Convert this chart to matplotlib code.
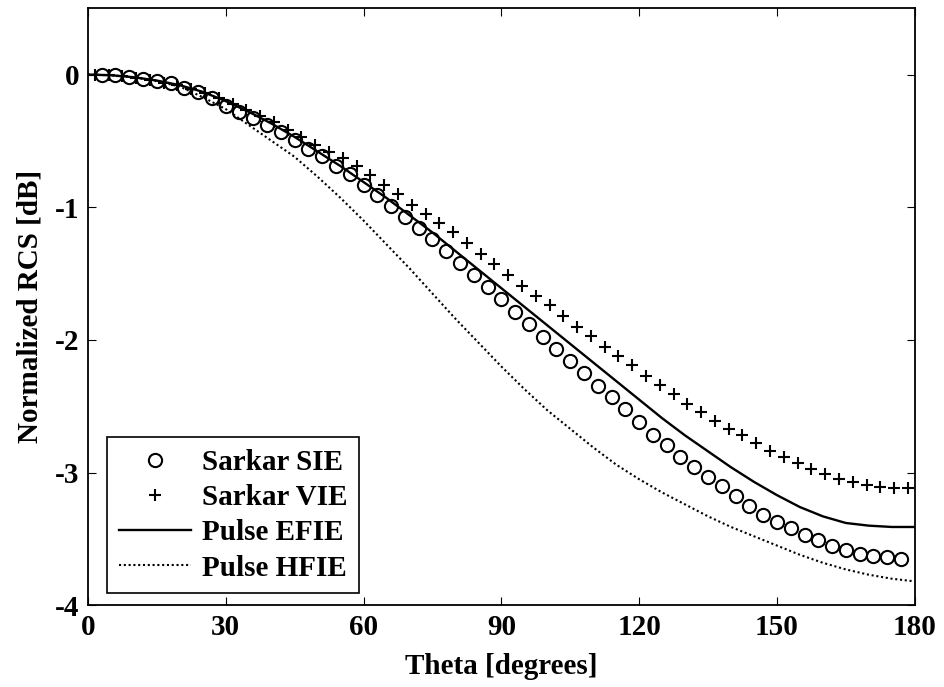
import numpy as np
import matplotlib
matplotlib.use('Agg')
import matplotlib.pyplot as plt

# data
sie_theta = np.arange(3, 178, 3)
sie_rcs = [0.0, -0.005, -0.015, -0.03, -0.05, -0.065, -0.10, -0.13, -0.18, -0.235,
           -0.28, -0.33, -0.38, -0.43, -0.49, -0.56, -0.61, -0.69, -0.75, -0.83,
           -0.91, -0.99, -1.07, -1.16, -1.24, -1.33, -1.42, -1.51, -1.60, -1.69,
           -1.79, -1.88, -1.98, -2.07, -2.16, -2.25, -2.35, -2.43, -2.52, -2.62,
           -2.72, -2.79, -2.88, -2.96, -3.03, -3.10, -3.18, -3.25, -3.32, -3.37,
           -3.42, -3.47, -3.51, -3.55, -3.58, -3.61, -3.63, -3.64, -3.65]

vie_theta = np.arange(1.5, 180, 3)
vie_rcs = [0.0, -0.005, -0.01, -0.025, -0.04, -0.06, -0.08, -0.11, -0.14, -0.18,
           -0.22, -0.27, -0.31, -0.36, -0.42, -0.47, -0.53, -0.58, -0.63, -0.69,
           -0.76, -0.83, -0.90, -0.98, -1.05, -1.12, -1.19, -1.27, -1.35, -1.43,
           -1.51, -1.59, -1.67, -1.74, -1.82, -1.90, -1.97, -2.05, -2.12, -2.19,
           -2.27, -2.34, -2.41, -2.48, -2.54, -2.61, -2.67, -2.72, -2.78, -2.84,
           -2.88, -2.93, -2.97, -3.01, -3.05, -3.07, -3.09, -3.11, -3.12, -3.12]

pulse_theta = np.arange(0, 181, 5)
efie_rcs = [0.0, -0.005, -0.02, -0.045, -0.08, -0.13, -0.20, -0.28, -0.37, -0.47,
            -0.58, -0.69, -0.81, -0.93, -1.06, -1.19, -1.33, -1.47, -1.61, -1.75,
            -1.89, -2.03, -2.17, -2.31, -2.45, -2.59, -2.72, -2.84, -2.96, -3.07,
            -3.17, -3.26, -3.33, -3.38, -3.40, -3.41, -3.41]
hfie_rcs = [0.0, -0.005, -0.02, -0.05, -0.09, -0.17, -0.26, -0.38, -0.50, -0.62,
            -0.77, -0.93, -1.10, -1.28, -1.46, -1.65, -1.84, -2.02, -2.20, -2.37,
            -2.53, -2.67, -2.81, -2.94, -3.05, -3.15, -3.24, -3.33, -3.41, -3.48,
            -3.55, -3.62, -3.68, -3.73, -3.77, -3.80, -3.82]

plt.rcParams['font.family'] = ['Liberation Serif', 'DejaVu Serif']
plt.rcParams['font.weight'] = 'bold'
plt.rcParams['axes.unicode_minus'] = False
fs = 21

fig = plt.figure(figsize=(9.45, 6.87), dpi=100)
ax = fig.add_axes([0.093, 0.119, 0.875, 0.869])

ax.plot(sie_theta, sie_rcs, 'o', mfc='none', mec='k', ms=9.5, mew=1.5, label='Sarkar SIE')
ax.plot(vie_theta, vie_rcs, '+', color='k', ms=9, mew=1.5, label='Sarkar VIE')
ax.plot(pulse_theta, efie_rcs, '-', color='k', lw=1.7, label='Pulse EFIE')
ax.plot(pulse_theta, hfie_rcs, color='k', lw=1.5, dashes=(1, 1.3), label='Pulse HFIE')

ax.set_xlim(0, 180)
ax.set_ylim(-4, 0.5)
ax.set_xticks(np.arange(0, 181, 30))
ax.set_yticks([-4, -3, -2, -1, 0])
ax.tick_params(direction='in', top=True, right=True, length=5.5, width=0.8,
               labelsize=fs, pad=6)
for lab in ax.get_xticklabels() + ax.get_yticklabels():
    lab.set_fontweight('bold')
for s in ax.spines.values():
    s.set_linewidth(1.3)

ax.set_xlabel('Theta [degrees]', fontsize=fs, fontweight='bold', labelpad=9)
ax.set_ylabel('Normalized RCS [dB]', fontsize=fs, fontweight='bold', labelpad=8)

leg = ax.legend(loc='lower left', bbox_to_anchor=(0.023, 0.02), fancybox=False,
                edgecolor='k', framealpha=1, prop={'size': fs, 'weight': 'bold'},
                handlelength=2.5, borderpad=0.4, labelspacing=0.28, handletextpad=0.35,
                borderaxespad=0)
leg.get_frame().set_linewidth(1.2)

fig.savefig('out.png', dpi=100)
